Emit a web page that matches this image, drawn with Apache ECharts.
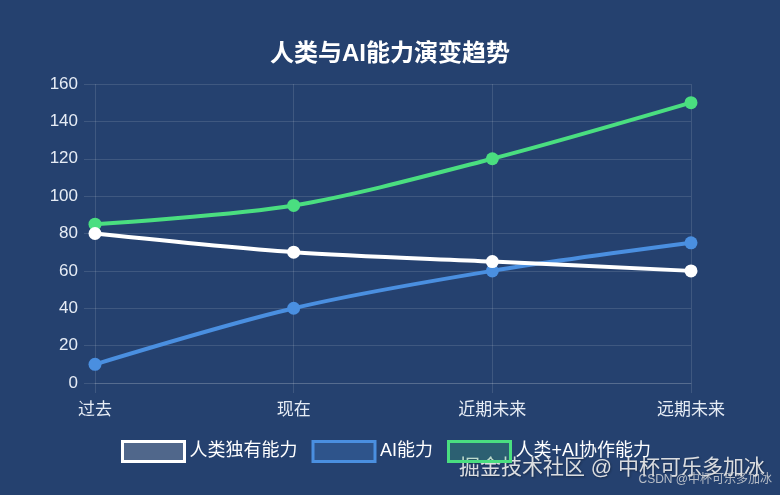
<!DOCTYPE html>
<html>
<head>
<meta charset="utf-8">
<script src="https://cdn.jsdelivr.net/npm/echarts@6/dist/echarts.min.js"></script>
<style>
  html, body { margin: 0; padding: 0; background: #25416f; }
  #main { width: 780px; height: 495px; }
</style>
</head>
<body>
<div id="main"></div>
<script>
// 人类与AI能力演变趋势
const stages = ['过去', '现在', '近期未来', '远期未来'];
const humanOnly = [80, 70, 65, 60];
const aiAbility = [10, 40, 60, 75];
const humanAi = [85, 95, 120, 150];
const yTicks = [0, 20, 40, 60, 80, 100, 120, 140, 160];

const seriesNames = ['人类独有能力', 'AI能力', '人类+AI协作能力'];
const seriesColors = ['#ffffff', '#4a8fe0', '#4ade80'];
const seriesFills = ['rgba(255,255,255,0.2)', 'rgba(74,143,224,0.25)', 'rgba(74,222,128,0.2)'];
const seriesData = [humanOnly, aiAbility, humanAi];

const gridColor = 'rgba(255,255,255,0.12)';
const font = '"Liberation Sans", "Noto Sans CJK SC", sans-serif';

const chart = echarts.init(document.getElementById('main'));

const option = {
  backgroundColor: '#25416f',
  textStyle: { fontFamily: font },
  title: {
    text: '人类与AI能力演变趋势',
    left: 'center',
    top: 42,
    padding: 0,
    textStyle: { color: '#ffffff', fontSize: 24, fontWeight: 'bold', fontFamily: font }
  },
  legend: {
    left: 121,
    top: 440,
    padding: 0,
    icon: 'rect',
    itemWidth: 62,
    itemHeight: 20,
    itemGap: 14,
    textStyle: { color: '#ffffff', fontSize: 18, fontFamily: font },
    data: seriesNames.map((name, i) => ({
      name: name,
      itemStyle: { color: seriesFills[i], borderColor: seriesColors[i], borderWidth: 3 }
    }))
  },
  grid: { left: 95, right: 89, top: 84, bottom: 112 },
  xAxis: {
    type: 'category',
    boundaryGap: false,
    data: stages,
    axisLine: { show: true, lineStyle: { color: gridColor } },
    axisTick: { show: true, length: 10, lineStyle: { color: gridColor } },
    axisLabel: { color: '#e6ecf5', fontSize: 17, margin: 19, fontFamily: font },
    splitLine: { show: true, lineStyle: { color: gridColor } }
  },
  yAxis: {
    type: 'value',
    min: yTicks[0],
    max: yTicks[yTicks.length - 1],
    interval: yTicks[1] - yTicks[0],
    axisLine: { show: false },
    axisTick: { show: true, length: 11, lineStyle: { color: gridColor } },
    axisLabel: { color: '#e6ecf5', fontSize: 17, margin: 17, fontFamily: font },
    splitLine: { show: true, lineStyle: { color: gridColor } }
  },
  series: seriesNames.map((name, i) => ({
    name: name,
    type: 'line',
    smooth: 0.3,
    data: seriesData[i],
    symbol: 'circle',
    symbolSize: 13,
    lineStyle: { color: seriesColors[i], width: 4 },
    itemStyle: { color: seriesColors[i] },
    z: 3 - i
  })),
  graphic: [
    {
      type: 'text',
      right: 15,
      top: 458,
      style: {
        text: '掘金技术社区 @ 中杯可乐多加冰',
        fill: 'rgba(235,235,235,0.92)',
        font: '21px ' + font,
        textShadowColor: 'rgba(0,0,0,0.35)',
        textShadowBlur: 2,
        textShadowOffsetX: 1,
        textShadowOffsetY: 1
      }
    },
    {
      type: 'text',
      right: 8,
      top: 474,
      style: {
        text: 'CSDN @中杯可乐多加冰',
        fill: 'rgba(220,220,220,0.8)',
        font: '12px ' + font
      }
    }
  ]
};

chart.setOption(option);
</script>
</body>
</html>
